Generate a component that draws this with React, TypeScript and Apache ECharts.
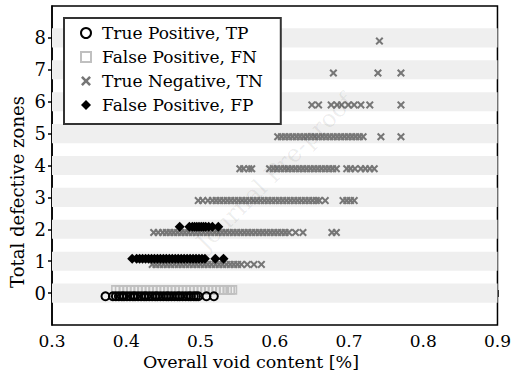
import React, { useEffect, useRef } from "react";
import * as echarts from "echarts";

// Axis ticks
const zoneTicks = [0, 1, 2, 3, 4, 5, 6, 7, 8];
const voidTicks = [0.3, 0.4, 0.5, 0.6, 0.7, 0.8, 0.9];

// Overall void content [%] per sample, grouped by total defective zones (row index)
const tpRows: number[][] = [
  [0.372, 0.382, 0.386, 0.390, 0.394, 0.397, 0.401, 0.405, 0.409, 0.412, 0.416, 0.420, 0.424,
   0.427, 0.431, 0.435, 0.439, 0.442, 0.446, 0.450, 0.454, 0.457, 0.461, 0.465, 0.469, 0.472,
   0.476, 0.480, 0.484, 0.487, 0.491, 0.494, 0.497, 0.508, 0.518],
];

const fnRows: number[][] = [
  [0.386, 0.391, 0.396, 0.401, 0.406, 0.411, 0.416, 0.421, 0.426, 0.431, 0.436, 0.441, 0.446,
   0.451, 0.456, 0.461, 0.466, 0.471, 0.476, 0.481, 0.486, 0.491, 0.496, 0.501, 0.506, 0.511,
   0.516, 0.521, 0.526, 0.531, 0.536, 0.540, 0.543],
];

const tnRows: number[][] = [
  [],
  [0.435, 0.440, 0.445, 0.450, 0.455, 0.460, 0.465, 0.470, 0.475, 0.480, 0.485, 0.490, 0.495,
   0.500, 0.505, 0.510, 0.515, 0.520, 0.525, 0.530, 0.535, 0.540, 0.545, 0.550, 0.555, 0.563,
   0.572, 0.582],
  [0.437, 0.443, 0.449, 0.454, 0.459, 0.464, 0.469, 0.474, 0.479, 0.484, 0.489, 0.494, 0.499,
   0.504, 0.509, 0.514, 0.519, 0.524, 0.529, 0.534, 0.539, 0.544, 0.549, 0.554, 0.559, 0.564,
   0.569, 0.574, 0.579, 0.584, 0.589, 0.594, 0.599, 0.604, 0.609, 0.614, 0.619, 0.628, 0.638,
   0.677, 0.683],
  [0.497, 0.503, 0.510, 0.516, 0.521, 0.526, 0.531, 0.536, 0.541, 0.546, 0.551, 0.556, 0.561,
   0.566, 0.571, 0.576, 0.581, 0.586, 0.591, 0.596, 0.601, 0.606, 0.611, 0.616, 0.621, 0.626,
   0.631, 0.636, 0.641, 0.646, 0.651, 0.656, 0.660, 0.668, 0.692, 0.697, 0.702, 0.707],
  [0.553, 0.558, 0.565, 0.569, 0.593, 0.598, 0.603, 0.608, 0.613, 0.618, 0.623, 0.628, 0.633,
   0.638, 0.643, 0.648, 0.653, 0.658, 0.663, 0.668, 0.673, 0.678, 0.683, 0.697, 0.702, 0.708,
   0.716, 0.722, 0.728, 0.734],
  [0.604, 0.609, 0.614, 0.619, 0.624, 0.629, 0.634, 0.639, 0.644, 0.649, 0.654, 0.659, 0.664,
   0.669, 0.674, 0.679, 0.684, 0.689, 0.694, 0.699, 0.704, 0.709, 0.714, 0.719, 0.743, 0.770],
  [0.650, 0.659, 0.676, 0.684, 0.690, 0.699, 0.707, 0.716, 0.728, 0.770],
  [0.679, 0.739, 0.770],
  [0.741],
];

const fpRows: number[][] = [
  [],
  [0.408, 0.414, 0.418, 0.422, 0.426, 0.430, 0.434, 0.438, 0.442, 0.446, 0.450, 0.454, 0.458,
   0.462, 0.466, 0.470, 0.474, 0.478, 0.482, 0.486, 0.490, 0.494, 0.498, 0.502, 0.506, 0.520,
   0.531],
  [0.472, 0.485, 0.489, 0.492, 0.495, 0.498, 0.501, 0.504, 0.507, 0.511, 0.516, 0.524],
];

const SERIF = "DejaVu Serif";
const CROSS = "path://M0,1.8L1.8,0L5,3.2L8.2,0L10,1.8L6.8,5L10,8.2L8.2,10L5,6.8L1.8,10L0,8.2L3.2,5Z";

// Positive predictions sit just above each zone line, negatives just below
const toPoints = (rows: number[][], shift: number) =>
  rows.flatMap((xs, zones) => xs.map((x) => [x, zones + shift]));

export default function App() {
  const ref = useRef<HTMLDivElement>(null);

  useEffect(() => {
    if (!ref.current) return;
    const chart = echarts.init(ref.current, undefined, { renderer: "svg" });

    const bands = zoneTicks.map((z) => [{ yAxis: z - 0.3 }, { yAxis: z + 0.3 }]);

    const xBase = {
      type: "value" as const,
      min: 0.3,
      max: 0.9,
      interval: 0.1,
      position: "bottom" as const,
      splitLine: { show: false },
    };
    const yBase = {
      type: "value" as const,
      min: -1,
      max: 9,
      interval: 1,
      position: "left" as const,
      splitLine: { show: false },
    };

    chart.setOption({
      animation: false,
      backgroundColor: "#fff",
      textStyle: { fontFamily: SERIF },
      grid: {
        left: 52,
        right: 11,
        top: 6,
        bottom: 48,
        show: true,
        borderColor: "#000",
        borderWidth: 1.5,
        backgroundColor: "transparent",
      },
      xAxis: [
        {
          ...xBase,
          axisLine: { show: true, lineStyle: { color: "#000", width: 1.5 } },
          axisTick: { show: true, length: 4, lineStyle: { color: "#000", width: 1.5 } },
          axisLabel: {
            show: true,
            margin: 7,
            color: "#000",
            fontSize: 17,
            fontFamily: SERIF,
            customValues: voidTicks,
            formatter: (v: number) => v.toFixed(1),
          },
        },
        {
          ...xBase,
          axisLine: { show: false },
          axisTick: { show: true, inside: true, length: 3, lineStyle: { color: "#000", width: 1.5 } },
          axisLabel: { show: false },
        },
      ],
      yAxis: [
        {
          ...yBase,
          axisLine: { show: true, lineStyle: { color: "#000", width: 1.5 } },
          axisTick: {
            show: true,
            length: 4,
            customValues: zoneTicks,
            lineStyle: { color: "#000", width: 1.5 },
          },
          axisLabel: {
            show: true,
            margin: 6,
            color: "#000",
            fontSize: 18,
            fontFamily: SERIF,
            customValues: zoneTicks,
            formatter: (v: number) => String(v),
          },
        },
        {
          ...yBase,
          axisLine: { show: false },
          axisTick: {
            show: true,
            inside: true,
            length: 3,
            customValues: zoneTicks,
            lineStyle: { color: "#000", width: 1.5 },
          },
          axisLabel: { show: false },
        },
      ],
      legend: {
        left: 64,
        top: 18,
        orient: "vertical",
        selectedMode: false,
        data: ["True Positive, TP", "False Positive, FN", "True Negative, TN", "False Positive, FP"],
        itemWidth: 10,
        itemHeight: 10,
        itemGap: 2,
        padding: [4, 18, 8, 16],
        borderColor: "#333",
        borderWidth: 2,
        backgroundColor: "#fff",
        textStyle: {
          color: "#000",
          fontSize: 17,
          fontFamily: SERIF,
          lineHeight: 22,
          padding: [0, 0, 0, 6],
        },
      },
      series: [
        {
          name: "bands",
          type: "scatter",
          data: [],
          z: 1,
          silent: true,
          markArea: {
            silent: true,
            label: { show: false },
            itemStyle: { color: "#efefef" },
            data: bands,
          },
        },
        {
          name: "False Positive, FN",
          type: "scatter",
          z: 2,
          symbol: "rect",
          symbolSize: 8,
          itemStyle: { color: "transparent", borderColor: "#c0c0c0", borderWidth: 1.6, opacity: 1 },
          data: toPoints(fnRows, 0.1),
        },
        {
          name: "True Negative, TN",
          type: "scatter",
          z: 3,
          symbol: CROSS,
          symbolSize: 8,
          itemStyle: { color: "#767676", opacity: 1 },
          data: toPoints(tnRows, -0.1),
        },
        {
          name: "True Positive, TP",
          type: "scatter",
          z: 4,
          symbol: "circle",
          symbolSize: 8,
          itemStyle: { color: "transparent", borderColor: "#000", borderWidth: 2, opacity: 1 },
          data: toPoints(tpRows, -0.1),
        },
        {
          name: "False Positive, FP",
          type: "scatter",
          z: 5,
          symbol: "diamond",
          symbolSize: 10,
          itemStyle: { color: "#000", opacity: 1 },
          data: toPoints(fpRows, 0.08),
        },
      ],
      graphic: [
        {
          type: "text",
          x: 17,
          y: 192,
          rotation: Math.PI / 2,
          silent: true,
          style: {
            text: "Total defective zones",
            fontSize: 18,
            fontFamily: SERIF,
            fill: "#000",
            align: "center",
            verticalAlign: "middle",
          },
        },
        {
          type: "text",
          x: 251,
          y: 362,
          silent: true,
          style: {
            text: "Overall void content [%]",
            fontSize: 17.5,
            fontFamily: SERIF,
            fill: "#000",
            align: "center",
            verticalAlign: "middle",
          },
        },
        {
          type: "text",
          x: 275,
          y: 172,
          rotation: Math.PI / 4,
          silent: true,
          z: 100,
          style: {
            text: "Journal Pre-proof",
            fontSize: 24,
            fontFamily: SERIF,
            fill: "rgba(0,0,0,0.07)",
            align: "center",
            verticalAlign: "middle",
          },
        },
      ],
    });

    return () => chart.dispose();
  }, []);

  return (
    <div
      ref={ref}
      style={{ position: "absolute", left: 0, top: 0, width: 514, height: 373 }}
    />
  );
}
